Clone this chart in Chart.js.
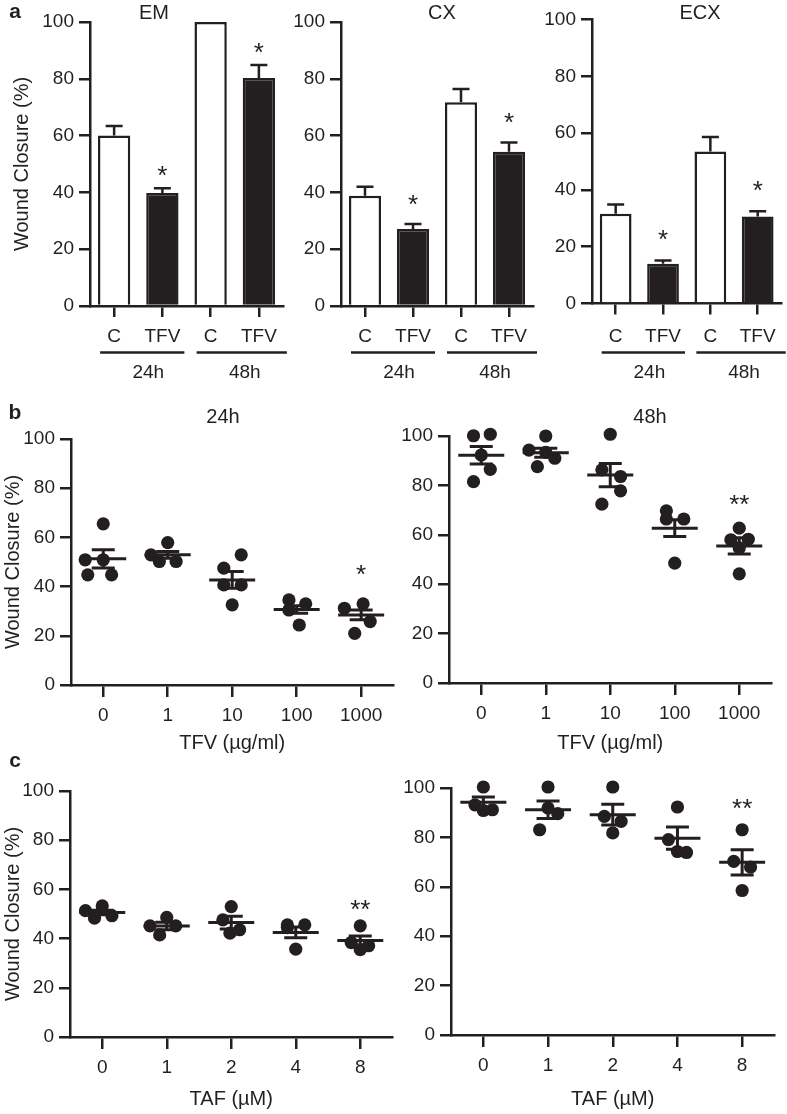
<!DOCTYPE html>
<html><head><meta charset="utf-8">
<script src="https://cdn.jsdelivr.net/npm/chart.js@4.4.1/dist/chart.umd.min.js"></script>
<style>
html,body{margin:0;padding:0;background:#ffffff;}
body{position:relative;width:787px;height:1114px;overflow:hidden;}
canvas{position:absolute;display:block;}
</style></head><body>
<script>
// ===================== DATA =====================
const barCategories = ['C', 'TFV', 'C', 'TFV'];
const barTimeGroups = ['24h', '48h'];
const emMean  = [60.0, 39.8, 100.0, 80.3];
const emSem   = [3.4, 1.7, 0, 4.6];
const cxMean  = [38.8, 27.1, 71.7, 54.3];
const cxSem   = [3.2, 1.8, 4.7, 3.3];
const ecxMean = [31.6, 14.0, 53.5, 30.6];
const ecxSem  = [3.3, 1.1, 5.1, 1.9];
const barSignif = ['', '*', '', '*'];

const tfvDoses = ['0', '1', '10', '100', '1000'];
const tafDoses = ['0', '1', '2', '4', '8'];
const yTickValues = [0, 20, 40, 60, 80, 100];

// b, 24h (TFV)
const tfv24Values  = [[65.5, 50.9, 50.9, 44.8, 44.8], [52.9, 57.9, 50.2, 50.2], [47.5, 52.9, 40.7, 40.7, 32.6], [34.6, 33.0, 30.5, 24.4], [31.2, 33.0, 25.8, 21.0]];
const tfv24Spread  = [[0, -0.28, 0, -0.24, 0.13], [-0.26, 0, -0.13, 0.13], [-0.13, 0.14, -0.13, 0.14, 0], [-0.12, 0.14, -0.12, 0.04], [-0.26, 0.03, 0.14, -0.1]];
const tfv24Mean    = [51.3, 52.9, 42.7, 30.7, 28.5];
const tfv24Sem     = [3.7, 1.4, 3.4, 1.5, 2.0];
const tfv24Signif  = ['', '', '', '', '*'];
// b, 48h (TFV)
const tfv48Values  = [[100.1, 100.7, 92.3, 86.5, 81.5], [100.0, 94.3, 93.4, 91.0, 87.6], [100.7, 86.3, 83.6, 77.8, 72.4], [69.7, 66.4, 66.4, 48.5], [62.7, 58.0, 58.2, 54.7, 44.2]];
const tfv48Spread  = [[-0.12, 0.14, 0, 0.14, -0.12], [0, -0.26, 0, 0.14, -0.13], [0, -0.13, 0.16, 0.16, -0.13], [-0.13, -0.13, 0.14, 0], [0, -0.13, 0.14, 0, 0]];
const tfv48Mean    = [92.2, 93.2, 84.2, 62.7, 55.5];
const tfv48Sem     = [3.5, 1.8, 4.7, 3.4, 3.3];
const tfv48Signif  = ['', '', '', '', '**'];
// c, 24h (TAF)
const taf24Values  = [[51.4, 48.3, 53.3, 49.3], [45.2, 48.6, 41.5, 45.2], [53.0, 47.6, 43.6, 42.2], [45.6, 44.5, 45.6, 35.7], [45.2, 38.4, 37.1, 35.5]];
const taf24Spread  = [[-0.26, -0.12, 0, 0.15], [-0.26, 0, -0.11, 0.14], [0, -0.13, 0.13, -0.02], [-0.13, -0.13, 0.14, 0], [0, -0.14, 0.13, 0]];
const taf24Mean    = [50.6, 45.1, 46.5, 42.5, 39.2];
const taf24Sem     = [0.9, 1.5, 2.6, 2.2, 1.9];
const taf24Signif  = ['', '', '', '', '**'];
// c, 48h (TAF)
const taf48Values  = [[100.4, 93.2, 90.9, 91.2], [100.4, 91.9, 89.6, 83.1], [100.4, 88.5, 86.5, 81.8], [92.3, 79.1, 74.3, 73.9], [83.1, 70.3, 68.0, 58.5]];
const taf48Spread  = [[0, -0.13, 0, 0.14], [0, 0, 0.15, -0.13], [0, -0.13, 0.13, 0], [0, -0.14, 0, 0.14], [0, -0.13, 0.13, 0]];
const taf48Mean    = [94.2, 91.2, 89.2, 79.7, 69.9];
const taf48Sem     = [2.2, 3.5, 4.2, 4.5, 5.1];
const taf48Signif  = ['', '', '', '', '**'];

// ===================== STYLE / LAYOUT =====================
const INK = '#231f20';
const FAM = "'Liberation Sans', Arial, Helvetica, sans-serif";
const fnt = (s, w) => `${w || 'normal'} ${s}px ${FAM}`;
const GROUP_LINE_Y = 352.5, GROUP_LABEL_Y = 373, CAT_LABEL_Y = 337;

function makeDecor(p) {
  return {
    id: 'decor',
    afterDatasetsDraw(chart) {
      const ctx = chart.ctx, xs = chart.scales.x, ys = chart.scales.y;
      const ox = p.box.x, oy = p.box.y;
      ctx.save();
      ctx.strokeStyle = INK; ctx.fillStyle = INK; ctx.lineCap = 'butt';
      const refs = [];
      p.mean.forEach((m, i) => {
        const x = xs.getPixelForValue(i);
        const yTop = ys.getPixelForValue(m + p.sem[i]);
        const yMid = ys.getPixelForValue(m);
        const yBot = ys.getPixelForValue(m - p.sem[i]);
        ctx.beginPath();
        if (p.kind === 'bar') {
          ctx.lineWidth = 2.5;
          if (p.sem[i] > 0) {
            ctx.moveTo(x, yMid); ctx.lineTo(x, yTop);
            ctx.moveTo(x - 8.5, yTop); ctx.lineTo(x + 8.5, yTop);
          }
          refs.push(yTop);
        } else {
          ctx.lineWidth = 3;
          ctx.moveTo(x - 23, yMid); ctx.lineTo(x + 23, yMid);
          ctx.moveTo(x, yBot); ctx.lineTo(x, yTop);
          ctx.moveTo(x - 11.5, yTop); ctx.lineTo(x + 11.5, yTop);
          ctx.moveTo(x - 11.5, yBot); ctx.lineTo(x + 11.5, yBot);
          refs.push(ys.getPixelForValue(Math.max(...p.values[i])));
        }
        ctx.stroke();
      });
      // significance marks
      ctx.font = fnt(26); ctx.textAlign = 'center'; ctx.textBaseline = 'alphabetic';
      p.signif.forEach((t, i) => {
        if (!t) return;
        const x = xs.getPixelForValue(i);
        const yc = refs[i] - p.lift;
        ctx.fillText(t, x, yc + 0.57 * 26);
      });
      // time-group underlines for bar panels
      if (p.kind === 'bar') {
        ctx.lineWidth = 2.5;
        ctx.font = fnt(19); ctx.textBaseline = 'middle';
        barTimeGroups.forEach((g, k) => {
          const xc = xs.getPixelForValue(2 * k), xt = xs.getPixelForValue(2 * k + 1);
          const x1 = xc - 14, x2 = xt + (k === 0 ? 22 : 28);
          ctx.beginPath(); ctx.moveTo(x1, GROUP_LINE_Y - oy); ctx.lineTo(x2, GROUP_LINE_Y - oy); ctx.stroke();
          ctx.fillText(g, (xc + xt) / 2 + 10, GROUP_LABEL_Y - oy);
        });
      }
      // panel texts
      ctx.textBaseline = 'alphabetic';
      (p.texts || []).forEach(t => {
        ctx.font = fnt(t.size || 20, t.weight);
        ctx.fillText(t.text, t.x - ox, t.y - oy);
      });
      ctx.restore();
    }
  };
}

function axisY(p) {
  return {
    min: 0, max: 100,
    afterBuildTicks: s => { s.ticks = yTickValues.map(v => ({ value: v })); },
    ticks: { color: INK, font: { family: FAM, size: 19 }, padding: 5 },
    grid: { display: true, drawOnChartArea: false, drawTicks: true, tickLength: 11, color: INK, lineWidth: 2.5 },
    border: { display: true, color: INK, width: 2.5 },
    title: { display: !!p.yTitle, text: p.yTitle || '', color: INK, font: { family: FAM, size: 20 },
             padding: { top: p.yTitlePad || 0, bottom: 0 } },
    afterFit: s => { s.width = p.area.l - p.box.x; }
  };
}

function build(p) {
  const c = document.createElement('canvas');
  c.width = p.box.w; c.height = p.box.h;
  c.style.left = p.box.x + 'px'; c.style.top = p.box.y + 'px';
  c.style.width = p.box.w + 'px'; c.style.height = p.box.h + 'px';
  document.body.appendChild(c);
  const xh = p.kind === 'bar' ? 40 : (p.xTitleY + 14 - p.area.b);
  const padding = {
    left: 0, top: p.area.t - p.box.y,
    right: p.box.x + p.box.w - p.area.r,
    bottom: p.box.y + p.box.h - p.area.b - xh
  };
  let config;
  if (p.kind === 'bar') {
    config = {
      type: 'bar',
      data: { labels: barCategories, datasets: [{
        data: p.mean,
        backgroundColor: barCategories.map(c => c === 'C' ? '#ffffff' : INK),
        borderColor: INK, borderWidth: 2.5, borderSkipped: 'start',
        barPercentage: 0.67, categoryPercentage: 1
      }] },
      options: { scales: {
        x: { type: 'category', offset: true,
             ticks: { color: INK, font: { family: FAM, size: 19 }, padding: CAT_LABEL_Y - p.area.b - 11 - 11.4,
                      autoSkip: false, maxRotation: 0 },
             grid: { display: true, offset: false, drawOnChartArea: false, drawTicks: true, tickLength: 11, color: INK, lineWidth: 2.5 },
             border: { display: true, color: INK, width: 2.5 },
             afterFit: s => { s.height = xh; } },
        y: axisY(p)
      } }
    };
  } else {
    const pts = [];
    p.values.forEach((grp, i) => grp.forEach((v, j) => pts.push({ x: i + p.spread[i][j], y: v })));
    config = {
      type: 'scatter',
      data: { datasets: [{ data: pts, pointRadius: 6.6, pointHoverRadius: 6.6, backgroundColor: INK, borderWidth: 0, clip: false }] },
      options: { scales: {
        x: { type: 'linear', min: -0.5, max: p.cats.length - 0.5,
             afterBuildTicks: s => { s.ticks = p.cats.map((_, i) => ({ value: i })); },
             ticks: { color: INK, font: { family: FAM, size: 19 }, padding: 7.5, autoSkip: false, maxRotation: 0,
                      callback: v => p.cats[v] },
             grid: { display: true, drawOnChartArea: false, drawTicks: true, tickLength: 12, color: INK, lineWidth: 2.5 },
             border: { display: true, color: INK, width: 2.5 },
             title: { display: true, text: p.xTitle, color: INK, font: { family: FAM, size: 20 }, padding: { top: 0, bottom: 2 } },
             afterFit: s => { s.height = xh; } },
        y: axisY(p)
      } }
    };
  }
  Object.assign(config.options, {
    responsive: false, animation: false, devicePixelRatio: 1,
    layout: { padding },
    plugins: { legend: { display: false }, tooltip: { enabled: false } },
    events: []
  });
  config.plugins = [makeDecor(p)];
  return new Chart(c.getContext('2d'), config);
}

const panels = [
  { kind: 'bar', box: { x: 0, y: 0, w: 290, h: 392 }, area: { l: 90, t: 22, r: 283, b: 306 },
    mean: emMean, sem: emSem, signif: barSignif, lift: 19, yTitle: 'Wound Closure (%)', yTitlePad: 10,
    texts: [{ text: 'a', x: 15, y: 17.5, weight: 'bold', size: 21 }, { text: 'EM', x: 154, y: 18.5 }] },
  { kind: 'bar', box: { x: 290, y: 0, w: 250, h: 392 }, area: { l: 341, t: 22, r: 533, b: 306 },
    mean: cxMean, sem: cxSem, signif: barSignif, lift: 26,
    texts: [{ text: 'CX', x: 442, y: 18.5 }] },
  { kind: 'bar', box: { x: 540, y: 0, w: 247, h: 392 }, area: { l: 592, t: 19.5, r: 785, b: 303.5 },
    mean: ecxMean, sem: ecxSem, signif: barSignif, lift: 27,
    texts: [{ text: 'ECX', x: 700, y: 19 }] },
  { kind: 'dots', box: { x: 0, y: 395, w: 400, h: 365 }, area: { l: 71, t: 439, r: 393.5, b: 685 },
    cats: tfvDoses, values: tfv24Values, spread: tfv24Spread, mean: tfv24Mean, sem: tfv24Sem, signif: tfv24Signif, lift: 36,
    yTitle: 'Wound Closure (%)', yTitlePad: 1, xTitle: 'TFV (µg/ml)', xTitleY: 743,
    texts: [{ text: 'b', x: 15, y: 419, weight: 'bold', size: 21 }, { text: '24h', x: 223, y: 422.5 }] },
  { kind: 'dots', box: { x: 395, y: 395, w: 392, h: 365 }, area: { l: 449, t: 436, r: 771.5, b: 683 },
    cats: tfvDoses, values: tfv48Values, spread: tfv48Spread, mean: tfv48Mean, sem: tfv48Sem, signif: tfv48Signif, lift: 30,
    xTitle: 'TFV (µg/ml)', xTitleY: 743,
    texts: [{ text: '48h', x: 650, y: 422.5 }] },
  { kind: 'dots', box: { x: 0, y: 745, w: 400, h: 369 }, area: { l: 70, t: 791, r: 392.5, b: 1037 },
    cats: tafDoses, values: taf24Values, spread: taf24Spread, mean: taf24Mean, sem: taf24Sem, signif: taf24Signif, lift: 23,
    yTitle: 'Wound Closure (%)', yTitlePad: 1, xTitle: 'TAF (µM)', xTitleY: 1099,
    texts: [{ text: 'c', x: 15, y: 766.5, weight: 'bold', size: 21 }] },
  { kind: 'dots', box: { x: 395, y: 745, w: 392, h: 369 }, area: { l: 451, t: 788, r: 774.5, b: 1035 },
    cats: tafDoses, values: taf48Values, spread: taf48Spread, mean: taf48Mean, sem: taf48Sem, signif: taf48Signif, lift: 28,
    xTitle: 'TAF (µM)', xTitleY: 1099, texts: [] }
];
panels.forEach(build);
</script>
</body></html>
